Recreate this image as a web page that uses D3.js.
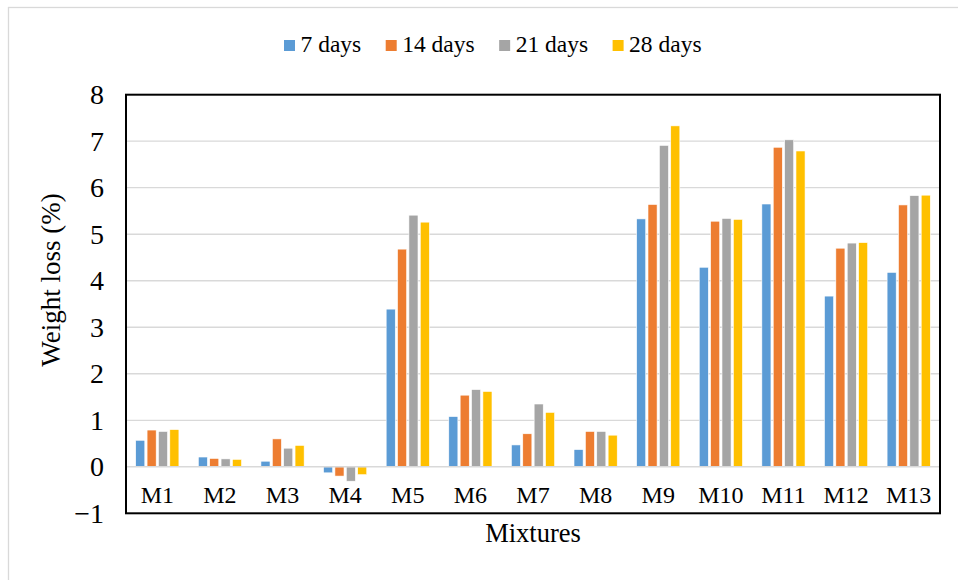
<!DOCTYPE html>
<html>
<head>
<meta charset="utf-8">
<script src="https://cdn.jsdelivr.net/npm/d3@7"></script>
<style>
  body { margin: 0; background: #fff; }
</style>
</head>
<body>
<div id="chart"></div>
<script>
// chart values
var categories = ["M1", "M2", "M3", "M4", "M5", "M6", "M7", "M8", "M9", "M10", "M11", "M12", "M13"];
var seriesNames = ["7 days", "14 days", "21 days", "28 days"];
var days7  = [0.57, 0.21, 0.12, -0.13, 3.39, 1.08, 0.47, 0.37, 5.33, 4.29, 5.65, 3.67, 4.18];
var days14 = [0.79, 0.18, 0.60, -0.20, 4.68, 1.54, 0.71, 0.76, 5.64, 5.28, 6.87, 4.70, 5.63];
var days21 = [0.76, 0.17, 0.40, -0.31, 5.41, 1.66, 1.35, 0.76, 6.91, 5.34, 7.03, 4.81, 5.83];
var days28 = [0.80, 0.16, 0.46, -0.17, 5.26, 1.62, 1.17, 0.68, 7.33, 5.32, 6.79, 4.82, 5.84];
var yTicks = [-1, 0, 1, 2, 3, 4, 5, 6, 7, 8];
var colors = ["#5b9bd5", "#ed7d31", "#a5a5a5", "#ffc000"];

var seriesValues = [days7, days14, days21, days28];
var FONT = "'Liberation Serif', serif";

// set the dimensions of the plot area
var W = 958, H = 580;
var plot = {left: 126, right: 940, top: 94.7, bottom: 513.3};

var svg = d3.select("#chart").append("svg")
    .attr("width", W)
    .attr("height", H)
    .style("font-family", FONT);

// light outer frame of the chart object
svg.append("rect")
    .attr("x", 8.5).attr("y", 7.5)
    .attr("width", W).attr("height", H)
    .attr("fill", "none")
    .attr("stroke", "#d9d9d9")
    .attr("stroke-width", 1.3);

// scales
var x0 = d3.scaleBand()
    .domain(categories)
    .range([plot.left, plot.right])
    .paddingInner(0.31)
    .paddingOuter(0.155);

var x1 = d3.scaleBand()
    .domain(seriesNames)
    .range([0, x0.bandwidth()])
    .paddingInner(0.2);

var y = d3.scaleLinear()
    .domain([-1, 8])
    .range([plot.bottom, plot.top]);

// gridlines
svg.append("g")
  .selectAll("line")
  .data(yTicks.filter(function(t) { return t > 0 && t < 8; }))
  .enter().append("line")
    .attr("x1", plot.left).attr("x2", plot.right)
    .attr("y1", function(d) { return y(d); })
    .attr("y2", function(d) { return y(d); })
    .attr("stroke", "#d9d9d9")
    .attr("stroke-width", 1.3);

// bars
var groups = svg.append("g")
  .selectAll("g")
  .data(categories)
  .enter().append("g")
    .attr("transform", function(c) { return "translate(" + x0(c) + ",0)"; });

groups.selectAll("rect")
  .data(function(c, i) {
    return seriesNames.map(function(s, j) { return {s: s, j: j, v: seriesValues[j][i]}; });
  })
  .enter().append("rect")
    .attr("x", function(d) { return x1(d.s); })
    .attr("width", x1.bandwidth())
    .attr("y", function(d) { return y(Math.max(0, d.v)); })
    .attr("height", function(d) { return Math.abs(y(d.v) - y(0)); })
    .attr("fill", function(d) { return colors[d.j]; })
    .attr("stroke", "#fff")
    .attr("stroke-width", 0.6);

// zero line (horizontal axis)
svg.append("line")
    .attr("x1", plot.left).attr("x2", plot.right)
    .attr("y1", y(0)).attr("y2", y(0))
    .attr("stroke", "#d9d9d9")
    .attr("stroke-width", 1.6);

// plot area border
svg.append("rect")
    .attr("x", plot.left).attr("y", plot.top)
    .attr("width", plot.right - plot.left)
    .attr("height", plot.bottom - plot.top)
    .attr("fill", "none")
    .attr("stroke", "#000")
    .attr("stroke-width", 2);

// y axis
var yAxis = svg.append("g")
    .attr("transform", "translate(" + plot.left + ",0)")
    .call(d3.axisLeft(y).tickValues(yTicks).tickSize(0).tickPadding(22).tickFormat(d3.format("d")));
yAxis.select(".domain").remove();
yAxis.attr("font-family", null).attr("font-size", null);
yAxis.selectAll("text")
    .attr("fill", "#000")
    .style("font-family", FONT)
    .style("font-size", "28px");

// category labels
svg.append("g")
  .selectAll("text")
  .data(categories)
  .enter().append("text")
    .attr("x", function(c) { return x0(c) + x0.bandwidth() / 2; })
    .attr("y", 503)
    .attr("text-anchor", "middle")
    .style("font-family", FONT)
    .style("font-size", "24px")
    .text(function(c) { return c; });

// axis titles
svg.append("text")
    .attr("transform", "translate(60,280) rotate(-90)")
    .attr("text-anchor", "middle")
    .style("font-family", FONT)
    .style("font-size", "27px")
    .text("Weight loss (%)");

svg.append("text")
    .attr("x", 533).attr("y", 542)
    .attr("text-anchor", "middle")
    .style("font-family", FONT)
    .style("font-size", "26.5px")
    .text("Mixtures");

// legend
var legend = svg.append("g");
var lx = 284;
seriesNames.forEach(function(s, j) {
  legend.append("rect")
      .attr("x", lx).attr("y", 40)
      .attr("width", 11).attr("height", 11)
      .attr("fill", colors[j]);
  var t = legend.append("text")
      .attr("x", lx + 16.5).attr("y", 51.7)
      .style("font-family", FONT)
      .style("font-size", "23.5px")
      .text(s);
  lx += 16.5 + t.node().getComputedTextLength() + 24.5;
});
</script>
</body>
</html>
